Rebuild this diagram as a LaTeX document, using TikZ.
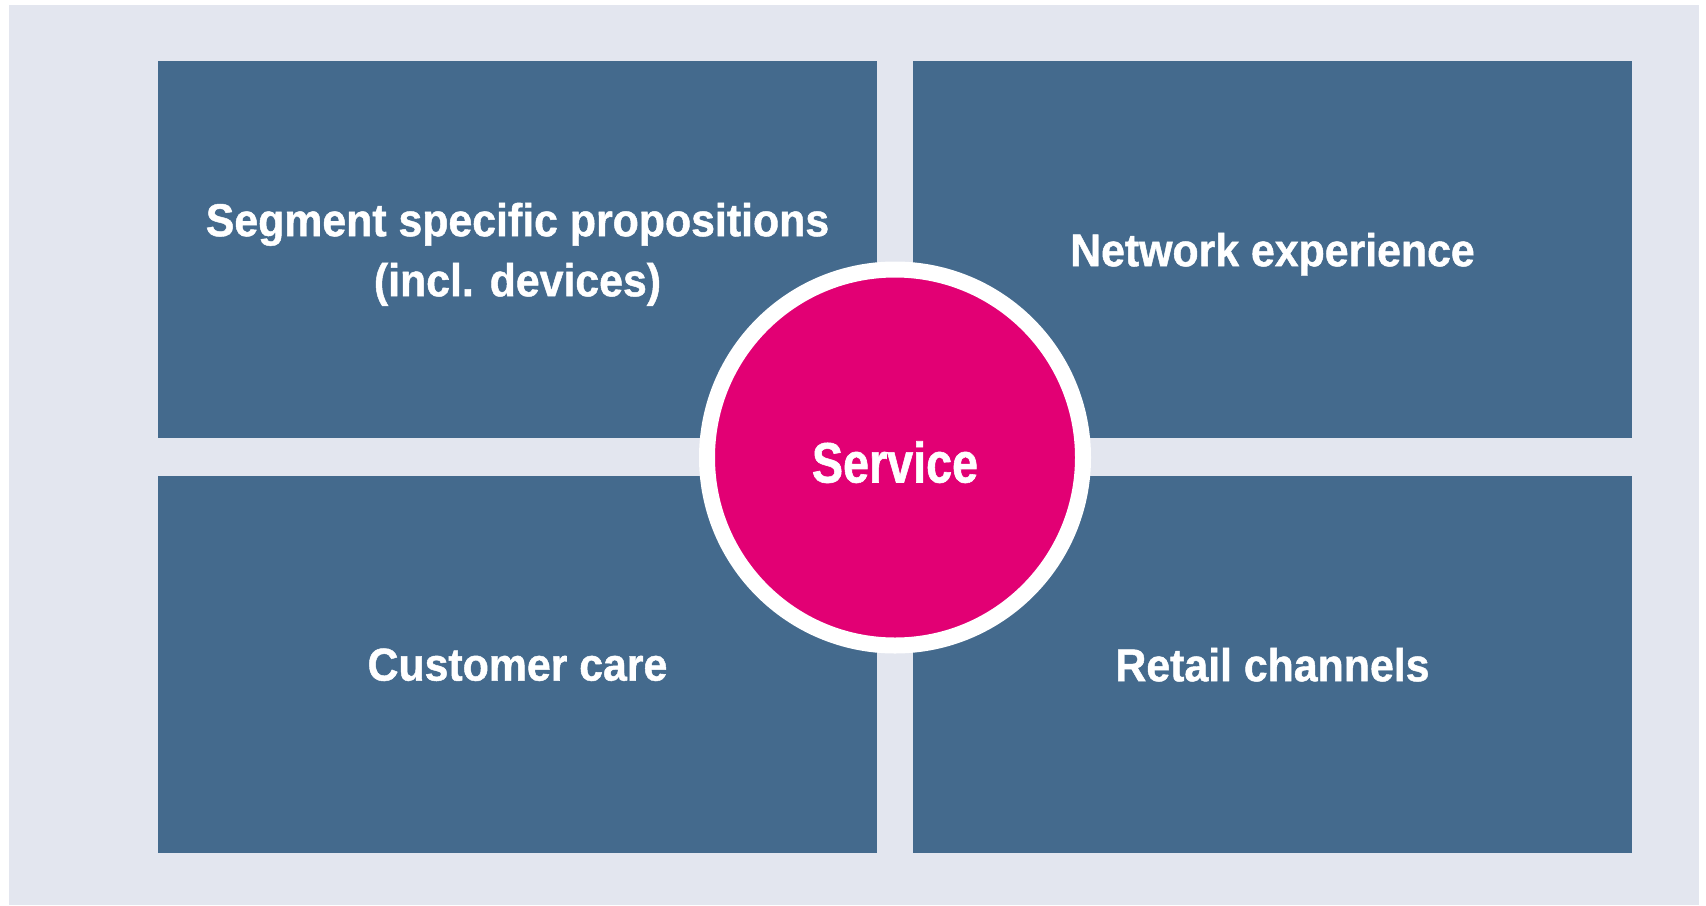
\documentclass[tikz,border=0pt]{standalone}
\usepackage{fontspec}
\usepackage{tikz}
\usepackage{xcolor}
\newfontfamily\boxfont[FakeStretch=0.93,BoldFeatures={FakeBold=1}]{Liberation Sans}
\newfontfamily\hubfont[FakeStretch=0.82,BoldFeatures={FakeBold=1}]{Liberation Sans}
\definecolor{bgGray}{HTML}{E3E6EF}
\definecolor{boxBlue}{HTML}{446A8D}
\definecolor{tMagenta}{HTML}{E20074}
\usetikzlibrary{positioning}
\tikzstyle{myBlock}=[fill=boxBlue, text=white, minimum width=7.19cm, minimum height=3.77cm, outer sep=0pt, text depth=0pt, align=center, font=\boxfont\bfseries\fontsize{13.1}{17.1}\selectfont]
\tikzstyle{myHub}=[circle, fill=tMagenta, draw=white, line width=0.16cm, minimum size=3.76cm, inner sep=0pt, text height=0.5cm, text depth=0pt, text=white, font=\hubfont\bfseries\fontsize{16.2}{19}\selectfont]

\begin{document}
\begin{tikzpicture}
   \useasboundingbox (0,0) rectangle (17.06,9.05);
   \fill[bgGray] (0.09,0) rectangle (16.99,9.00);

   \node[myBlock] (seg) at (5.175,6.555) {Segment specific propositions\\(incl. devices)};
   \node[myBlock] (net) [right=0.36cm of seg] {Network experience};
   \node[myBlock] (care) [below=0.38cm of seg] {Customer care};
   \node[myBlock] (retail) [below=0.38cm of net] {Retail channels};

   % Service circle in the middle of the four blocks
   \node[myHub] (hub) at (8.95,4.475) {Service};

\end{tikzpicture}
\end{document}
